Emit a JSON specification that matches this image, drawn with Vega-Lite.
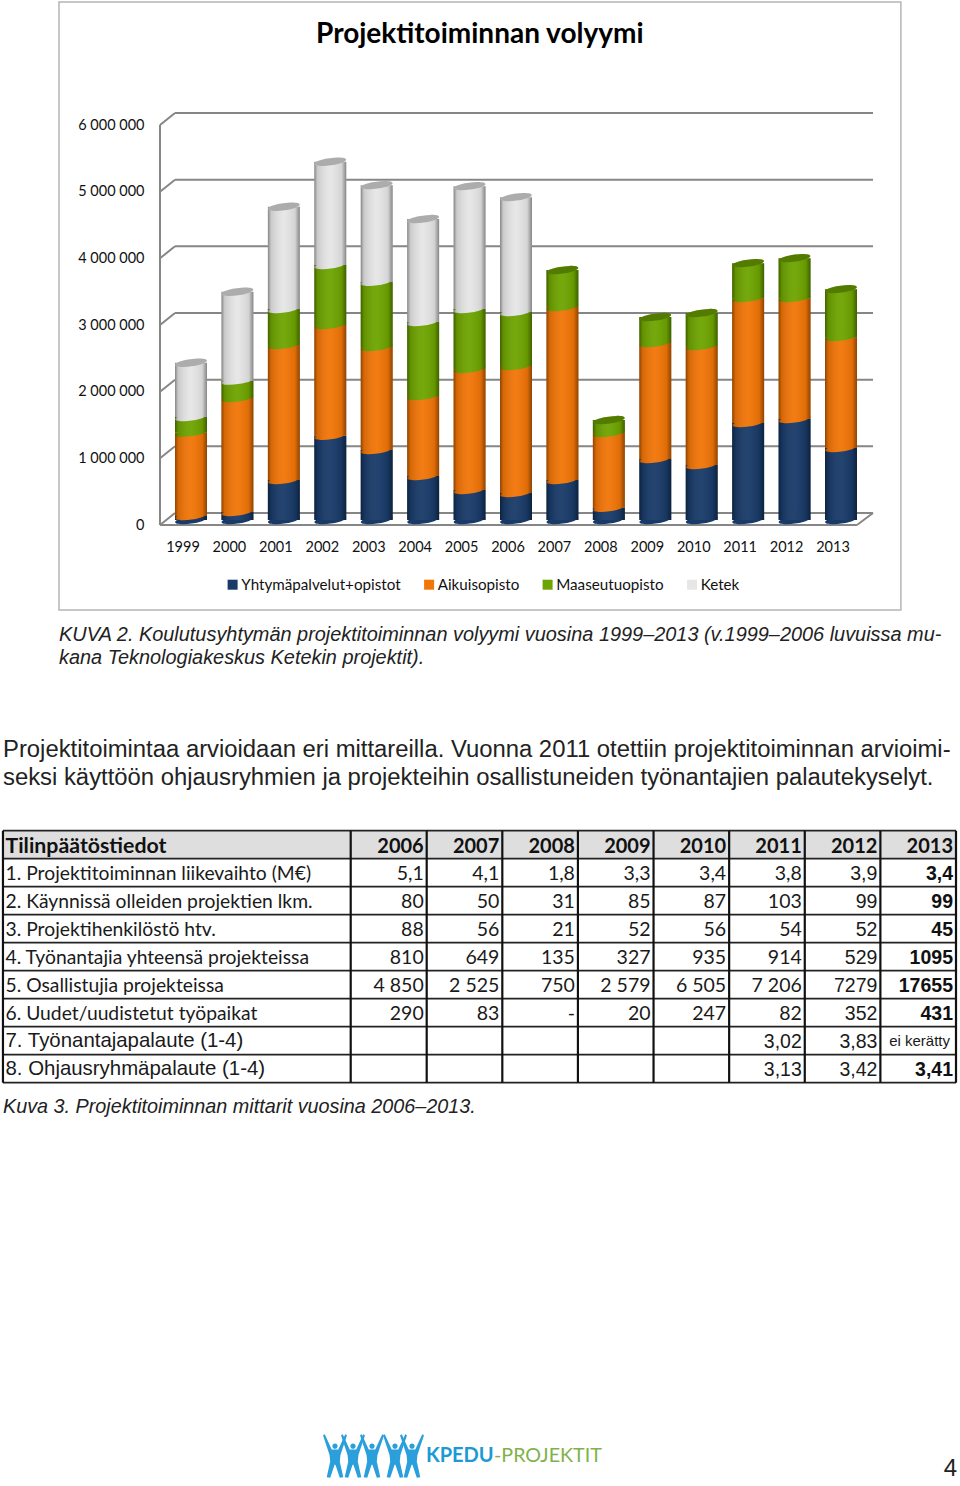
{"$schema":"https://vega.github.io/schema/vega-lite/v6.json","padding":0,"spacing":0,"background":"white","config":{"view":{"stroke":null},"axis":{"grid":false,"domain":false,"ticks":false,"title":null},"concat":{"spacing":0}},
"datasets":{"solut":[
{"rivi":0,"vuosi":2006,"teksti":"2006","tyyli":"otsikko"},{"rivi":0,"vuosi":2007,"teksti":"2007","tyyli":"otsikko"},{"rivi":0,"vuosi":2008,"teksti":"2008","tyyli":"otsikko"},{"rivi":0,"vuosi":2009,"teksti":"2009","tyyli":"otsikko"},{"rivi":0,"vuosi":2010,"teksti":"2010","tyyli":"otsikko"},{"rivi":0,"vuosi":2011,"teksti":"2011","tyyli":"otsikko"},{"rivi":0,"vuosi":2012,"teksti":"2012","tyyli":"otsikko"},{"rivi":0,"vuosi":2013,"teksti":"2013","tyyli":"otsikko"},
{"rivi":1,"vuosi":2006,"teksti":"5,1","tyyli":"runko"},{"rivi":1,"vuosi":2007,"teksti":"4,1","tyyli":"runko"},{"rivi":1,"vuosi":2008,"teksti":"1,8","tyyli":"runko"},{"rivi":1,"vuosi":2009,"teksti":"3,3","tyyli":"runko"},{"rivi":1,"vuosi":2010,"teksti":"3,4","tyyli":"runko"},{"rivi":1,"vuosi":2011,"teksti":"3,8","tyyli":"runko"},{"rivi":1,"vuosi":2012,"teksti":"3,9","tyyli":"arial"},{"rivi":1,"vuosi":2013,"teksti":"3,4","tyyli":"lihava"},
{"rivi":2,"vuosi":2006,"teksti":"80","tyyli":"runko"},{"rivi":2,"vuosi":2007,"teksti":"50","tyyli":"runko"},{"rivi":2,"vuosi":2008,"teksti":"31","tyyli":"runko"},{"rivi":2,"vuosi":2009,"teksti":"85","tyyli":"runko"},{"rivi":2,"vuosi":2010,"teksti":"87","tyyli":"runko"},{"rivi":2,"vuosi":2011,"teksti":"103","tyyli":"runko"},{"rivi":2,"vuosi":2012,"teksti":"99","tyyli":"arial"},{"rivi":2,"vuosi":2013,"teksti":"99","tyyli":"lihava"},
{"rivi":3,"vuosi":2006,"teksti":"88","tyyli":"runko"},{"rivi":3,"vuosi":2007,"teksti":"56","tyyli":"runko"},{"rivi":3,"vuosi":2008,"teksti":"21","tyyli":"runko"},{"rivi":3,"vuosi":2009,"teksti":"52","tyyli":"runko"},{"rivi":3,"vuosi":2010,"teksti":"56","tyyli":"runko"},{"rivi":3,"vuosi":2011,"teksti":"54","tyyli":"runko"},{"rivi":3,"vuosi":2012,"teksti":"52","tyyli":"arial"},{"rivi":3,"vuosi":2013,"teksti":"45","tyyli":"lihava"},
{"rivi":4,"vuosi":2006,"teksti":"810","tyyli":"runko"},{"rivi":4,"vuosi":2007,"teksti":"649","tyyli":"runko"},{"rivi":4,"vuosi":2008,"teksti":"135","tyyli":"runko"},{"rivi":4,"vuosi":2009,"teksti":"327","tyyli":"runko"},{"rivi":4,"vuosi":2010,"teksti":"935","tyyli":"runko"},{"rivi":4,"vuosi":2011,"teksti":"914","tyyli":"runko"},{"rivi":4,"vuosi":2012,"teksti":"529","tyyli":"arial"},{"rivi":4,"vuosi":2013,"teksti":"1095","tyyli":"lihava"},
{"rivi":5,"vuosi":2006,"teksti":"4 850","tyyli":"runko"},{"rivi":5,"vuosi":2007,"teksti":"2 525","tyyli":"runko"},{"rivi":5,"vuosi":2008,"teksti":"750","tyyli":"runko"},{"rivi":5,"vuosi":2009,"teksti":"2 579","tyyli":"runko"},{"rivi":5,"vuosi":2010,"teksti":"6 505","tyyli":"runko"},{"rivi":5,"vuosi":2011,"teksti":"7 206","tyyli":"runko"},{"rivi":5,"vuosi":2012,"teksti":"7279","tyyli":"arial"},{"rivi":5,"vuosi":2013,"teksti":"17655","tyyli":"lihava"},
{"rivi":6,"vuosi":2006,"teksti":"290","tyyli":"runko"},{"rivi":6,"vuosi":2007,"teksti":"83","tyyli":"runko"},{"rivi":6,"vuosi":2008,"teksti":"-","tyyli":"runko"},{"rivi":6,"vuosi":2009,"teksti":"20","tyyli":"runko"},{"rivi":6,"vuosi":2010,"teksti":"247","tyyli":"runko"},{"rivi":6,"vuosi":2011,"teksti":"82","tyyli":"runko"},{"rivi":6,"vuosi":2012,"teksti":"352","tyyli":"arial"},{"rivi":6,"vuosi":2013,"teksti":"431","tyyli":"lihava"},
{"rivi":7,"vuosi":2011,"teksti":"3,02","tyyli":"arial"},{"rivi":7,"vuosi":2012,"teksti":"3,83","tyyli":"arial"},{"rivi":7,"vuosi":2013,"teksti":"ei kerätty","tyyli":"pieni"},
{"rivi":8,"vuosi":2011,"teksti":"3,13","tyyli":"arial"},{"rivi":8,"vuosi":2012,"teksti":"3,42","tyyli":"arial"},{"rivi":8,"vuosi":2013,"teksti":"3,41","tyyli":"lihava"}
],"nimikkeet":[
{"rivi":0,"teksti":"Tilinpäätöstiedot","tyyli":"otsikko"},
{"rivi":1,"teksti":"1. Projektitoiminnan liikevaihto (M€)","tyyli":"runko"},
{"rivi":2,"teksti":"2. Käynnissä olleiden projektien lkm.","tyyli":"runko"},
{"rivi":3,"teksti":"3. Projektihenkilöstö htv.","tyyli":"runko"},
{"rivi":4,"teksti":"4. Työnantajia yhteensä projekteissa","tyyli":"runko"},
{"rivi":5,"teksti":"5. Osallistujia projekteissa","tyyli":"runko"},
{"rivi":6,"teksti":"6. Uudet/uudistetut työpaikat","tyyli":"runko"},
{"rivi":7,"teksti":"7. Työnantajapalaute (1-4)","tyyli":"arial"},
{"rivi":8,"teksti":"8. Ohjausryhmäpalaute (1-4)","tyyli":"arial"}
],"vaaka":[{"rivi":0},{"rivi":1},{"rivi":2},{"rivi":3},{"rivi":4},{"rivi":5},{"rivi":6},{"rivi":7},{"rivi":8},{"rivi":9}],
"pysty":[{"vuosi":2000.396},{"vuosi":2004.995},{"vuosi":2006},{"vuosi":2007},{"vuosi":2008},{"vuosi":2009},{"vuosi":2010},{"vuosi":2011},{"vuosi":2012},{"vuosi":2013}]},
"vconcat":[
{"width":960,"height":615,"layer":[
{"data":{"values":[{}]},"mark":{"type":"rect","fill":"white","stroke":"#b5b5b5","strokeWidth":1.5},"encoding":{"x":{"datum":1996.157,"type":"quantitative","scale":{"domain":[1999,2013],"range":[191,841],"nice":false,"zero":false,"padding":0},"axis":{"values":[1999,2000,2001,2002,2003,2004,2005,2006,2007,2008,2009,2010,2011,2012,2013],"format":"d","offset":-78,"orient":"bottom","labelFont":"Lato","labelFontSize":14.5,"labelColor":"#111","labelPadding":3,"title":null,"labelOverlap":false,"labelFlush":false,"labelOffset":-8.5,"zindex":1}},"x2":{"datum":2014.29},"y":{"datum":7845000,"type":"quantitative","scale":{"domain":[0,6000000],"range":[525,125],"nice":false,"zero":false},"axis":{"values":[0,1000000,2000000,3000000,4000000,5000000,6000000],"labelExpr":"replace(replace(format(datum.value,','),',',' '),',',' ')","offset":-149,"orient":"left","labelFont":"Lato","labelFontSize":14.5,"labelColor":"#111","labelPadding":5,"title":null,"zindex":1}},"y2":{"datum":-1275000}}},
{"data":{"values":[{"arvo":0},{"arvo":1000000},{"arvo":2000000},{"arvo":3000000},{"arvo":4000000},{"arvo":5000000},{"arvo":6000000}]},"layer":[
{"mark":{"type":"rule","color":"#868686","strokeWidth":2,"yOffset":-12},"encoding":{"x":{"datum":1998.655,"type":"quantitative"},"x2":{"datum":2013.689},"y":{"field":"arvo","type":"quantitative"}}},
{"mark":{"type":"rule","color":"#868686","strokeWidth":2,"y2Offset":-12},"encoding":{"x":{"datum":1998.332,"type":"quantitative"},"x2":{"datum":1998.655},"y":{"field":"arvo","type":"quantitative"},"y2":{"field":"arvo"}}}
]},
{"data":{"values":[{}]},"layer":[
{"mark":{"type":"rule","color":"#868686","strokeWidth":2},"encoding":{"x":{"datum":1998.332,"type":"quantitative"},"y":{"datum":0,"type":"quantitative"},"y2":{"datum":6000000}}},
{"mark":{"type":"rule","color":"#868686","strokeWidth":2},"encoding":{"x":{"datum":1998.332,"type":"quantitative"},"x2":{"datum":2013.344},"y":{"datum":0,"type":"quantitative"}}},
{"mark":{"type":"rule","color":"#868686","strokeWidth":2,"y2Offset":-12},"encoding":{"x":{"datum":2013.344,"type":"quantitative"},"x2":{"datum":2013.689},"y":{"datum":0,"type":"quantitative"},"y2":{"datum":0}}},
{"mark":{"type":"text","text":"Projektitoiminnan volyymi","font":"Lato","fontWeight":"bold","fontSize":28,"color":"#000","align":"center","baseline":"middle"},"encoding":{"x":{"datum":2005.22,"type":"quantitative"},"y":{"datum":7350000,"type":"quantitative"}}}
]},
{"data":{"values":[
{"vuosi":1999,"sarja":"Yhtymäpalvelut+opistot","jarj":1,"arvo":60000},{"vuosi":1999,"sarja":"Aikuisopisto","jarj":2,"arvo":1250000},{"vuosi":1999,"sarja":"Maaseutuopisto","jarj":3,"arvo":235000},{"vuosi":1999,"sarja":"Ketek","jarj":4,"arvo":814000},
{"vuosi":2000,"sarja":"Yhtymäpalvelut+opistot","jarj":1,"arvo":120000},{"vuosi":2000,"sarja":"Aikuisopisto","jarj":2,"arvo":1710000},{"vuosi":2000,"sarja":"Maaseutuopisto","jarj":3,"arvo":260000},{"vuosi":2000,"sarja":"Ketek","jarj":4,"arvo":1334000},
{"vuosi":2001,"sarja":"Yhtymäpalvelut+opistot","jarj":1,"arvo":600000},{"vuosi":2001,"sarja":"Aikuisopisto","jarj":2,"arvo":2024000},{"vuosi":2001,"sarja":"Maaseutuopisto","jarj":3,"arvo":540000},{"vuosi":2001,"sarja":"Ketek","jarj":4,"arvo":1534000},
{"vuosi":2002,"sarja":"Yhtymäpalvelut+opistot","jarj":1,"arvo":1264000},{"vuosi":2002,"sarja":"Aikuisopisto","jarj":2,"arvo":1660000},{"vuosi":2002,"sarja":"Maaseutuopisto","jarj":3,"arvo":900000},{"vuosi":2002,"sarja":"Ketek","jarj":4,"arvo":1549000},
{"vuosi":2003,"sarja":"Yhtymäpalvelut+opistot","jarj":1,"arvo":1050000},{"vuosi":2003,"sarja":"Aikuisopisto","jarj":2,"arvo":1544000},{"vuosi":2003,"sarja":"Maaseutuopisto","jarj":3,"arvo":979000},{"vuosi":2003,"sarja":"Ketek","jarj":4,"arvo":1450000},
{"vuosi":2004,"sarja":"Yhtymäpalvelut+opistot","jarj":1,"arvo":660000},{"vuosi":2004,"sarja":"Aikuisopisto","jarj":2,"arvo":1200000},{"vuosi":2004,"sarja":"Maaseutuopisto","jarj":3,"arvo":1110000},{"vuosi":2004,"sarja":"Ketek","jarj":4,"arvo":1544000},
{"vuosi":2005,"sarja":"Yhtymäpalvelut+opistot","jarj":1,"arvo":450000},{"vuosi":2005,"sarja":"Aikuisopisto","jarj":2,"arvo":1814000},{"vuosi":2005,"sarja":"Maaseutuopisto","jarj":3,"arvo":900000},{"vuosi":2005,"sarja":"Ketek","jarj":4,"arvo":1844000},
{"vuosi":2006,"sarja":"Yhtymäpalvelut+opistot","jarj":1,"arvo":405000},{"vuosi":2006,"sarja":"Aikuisopisto","jarj":2,"arvo":1904000},{"vuosi":2006,"sarja":"Maaseutuopisto","jarj":3,"arvo":810000},{"vuosi":2006,"sarja":"Ketek","jarj":4,"arvo":1724000},
{"vuosi":2007,"sarja":"Yhtymäpalvelut+opistot","jarj":1,"arvo":600000},{"vuosi":2007,"sarja":"Aikuisopisto","jarj":2,"arvo":2594000},{"vuosi":2007,"sarja":"Maaseutuopisto","jarj":3,"arvo":555000},
{"vuosi":2008,"sarja":"Yhtymäpalvelut+opistot","jarj":1,"arvo":184000},{"vuosi":2008,"sarja":"Aikuisopisto","jarj":2,"arvo":1120000},{"vuosi":2008,"sarja":"Maaseutuopisto","jarj":3,"arvo":195000},
{"vuosi":2009,"sarja":"Yhtymäpalvelut+opistot","jarj":1,"arvo":915000},{"vuosi":2009,"sarja":"Aikuisopisto","jarj":2,"arvo":1739000},{"vuosi":2009,"sarja":"Maaseutuopisto","jarj":3,"arvo":390000},
{"vuosi":2010,"sarja":"Yhtymäpalvelut+opistot","jarj":1,"arvo":825000},{"vuosi":2010,"sarja":"Aikuisopisto","jarj":2,"arvo":1784000},{"vuosi":2010,"sarja":"Maaseutuopisto","jarj":3,"arvo":495000},
{"vuosi":2011,"sarja":"Yhtymäpalvelut+opistot","jarj":1,"arvo":1454000},{"vuosi":2011,"sarja":"Aikuisopisto","jarj":2,"arvo":1874000},{"vuosi":2011,"sarja":"Maaseutuopisto","jarj":3,"arvo":525000},
{"vuosi":2012,"sarja":"Yhtymäpalvelut+opistot","jarj":1,"arvo":1514000},{"vuosi":2012,"sarja":"Aikuisopisto","jarj":2,"arvo":1814000},{"vuosi":2012,"sarja":"Maaseutuopisto","jarj":3,"arvo":600000},
{"vuosi":2013,"sarja":"Yhtymäpalvelut+opistot","jarj":1,"arvo":1079000},{"vuosi":2013,"sarja":"Aikuisopisto","jarj":2,"arvo":1664000},{"vuosi":2013,"sarja":"Maaseutuopisto","jarj":3,"arvo":720000}
]},
"transform":[{"stack":"arvo","groupby":["vuosi"],"sort":[{"field":"jarj","order":"ascending"}],"as":["y0","y1"]},{"joinaggregate":[{"op":"max","field":"y1","as":"ylin"}],"groupby":["vuosi"]}],
"layer":[
{"mark":{"type":"bar","width":32,"orient":"vertical","yOffset":-5,"y2Offset":-5},"encoding":{"x":{"field":"vuosi","type":"quantitative"},"y":{"field":"y0","type":"quantitative"},"y2":{"field":"y1"},"color":{"field":"sarja","type":"nominal","scale":{"domain":["Yhtymäpalvelut+opistot","Aikuisopisto","Maaseutuopisto","Ketek"],"range":["#183a68","#f27507","#6ea400","#e6e6e6"]},"legend":{"title":null,"orient":"none","legendX":225,"legendY":577,"direction":"horizontal","columns":4,"columnPadding":20.5,"symbolType":"square","symbolSize":100,"symbolStrokeWidth":0,"labelFont":"Lato","labelFontSize":15.2,"labelColor":"#111","labelOffset":1}}}},
{"mark":{"type":"point","filled":true,"opacity":1,"size":1024,"yOffset":-5,"shape":"M-.99,.14 A1,.22 -8 1 0 .99,-.14 A1,.22 -8 1 0 -.99,.14 Z"},"encoding":{"x":{"field":"vuosi","type":"quantitative"},"y":{"field":"y0","type":"quantitative"},"color":{"field":"sarja","type":"nominal","legend":null}}},
{"mark":{"type":"bar","width":32,"orient":"vertical","yOffset":-5,"y2Offset":-5,"color":{"gradient":"linear","x1":0,"x2":1,"y1":0,"y2":0,"stops":[{"offset":0,"color":"rgba(0,0,0,0.42)"},{"offset":0.1,"color":"rgba(0,0,0,0.12)"},{"offset":0.5,"color":"rgba(255,255,255,0.05)"},{"offset":0.85,"color":"rgba(0,0,0,0.08)"},{"offset":1,"color":"rgba(0,0,0,0.42)"}]}},"encoding":{"x":{"field":"vuosi","type":"quantitative"},"y":{"field":"y0","type":"quantitative"},"y2":{"field":"y1"}}},
{"transform":[{"filter":"datum.y1 === datum.ylin"}],"mark":{"type":"point","filled":true,"opacity":1,"size":1024,"yOffset":-5,"shape":"M-.99,.14 A1,.22 -8 1 0 .99,-.14 A1,.22 -8 1 0 -.99,.14 Z"},"encoding":{"x":{"field":"vuosi","type":"quantitative"},"y":{"field":"y1","type":"quantitative"},"color":{"field":"sarja","type":"nominal","legend":null}}},
{"transform":[{"filter":"datum.y1 === datum.ylin"}],"mark":{"type":"point","filled":true,"opacity":0.25,"color":"#000","size":1024,"yOffset":-5,"shape":"M-.99,.14 A1,.22 -8 1 0 .99,-.14 A1,.22 -8 1 0 -.99,.14 Z"},"encoding":{"x":{"field":"vuosi","type":"quantitative"},"y":{"field":"y1","type":"quantitative"}}}
]}
]},
{"width":960,"height":210,"resolve":{"scale":{"y":"independent"}},"layer":[
{"data":{"values":[{"rivi":1,"teksti":"KUVA 2. Koulutusyhtymän projektitoiminnan volyymi vuosina 1999–2013 (v.1999–2006 luvuissa mu-"},{"rivi":2,"teksti":"kana Teknologiakeskus Ketekin projektit)."}]},"mark":{"type":"text","font":"Liberation Sans","fontStyle":"italic","fontSize":19.9,"color":"#222","align":"left","baseline":"middle"},"encoding":{"x":{"datum":59,"type":"quantitative","scale":{"domain":[0,960],"range":[0,960],"nice":false},"axis":null},"y":{"field":"rivi","type":"quantitative","scale":{"domain":[1,2],"range":[20,43],"nice":false,"zero":false},"axis":null},"text":{"field":"teksti"}}},
{"data":{"values":[{"rivi":1,"teksti":"Projektitoimintaa arvioidaan eri mittareilla. Vuonna 2011 otettiin projektitoiminnan arvioimi-"},{"rivi":2,"teksti":"seksi käyttöön ohjausryhmien ja projekteihin osallistuneiden työnantajien palautekyselyt."}]},"mark":{"type":"text","font":"Liberation Sans","fontSize":23.85,"color":"#222","align":"left","baseline":"middle"},"encoding":{"x":{"datum":3,"type":"quantitative","axis":null},"y":{"field":"rivi","type":"quantitative","scale":{"domain":[1,2],"range":[135,163],"nice":false,"zero":false},"axis":null},"text":{"field":"teksti"}}}
]},
{"width":960,"height":270,
"layer":[
{"data":{"values":[{}]},"mark":{"type":"rect","fill":"#dedede"},"encoding":{"x":{"datum":2000.396,"type":"quantitative","scale":{"domain":[2006,2013],"range":[426.7,956],"nice":false,"zero":false},"axis":null},"x2":{"datum":2013},"y":{"datum":0,"type":"quantitative","scale":{"domain":[0,9],"range":[5.7,257.7],"nice":false,"zero":false},"axis":null},"y2":{"datum":1}}},
{"data":{"name":"vaaka"},"mark":{"type":"rule","color":"#222","strokeWidth":1.7},"encoding":{"x":{"datum":2000.396,"type":"quantitative"},"x2":{"datum":2013},"y":{"field":"rivi","type":"quantitative"}}},
{"data":{"name":"pysty"},"mark":{"type":"rule","color":"#111","strokeWidth":2.2},"encoding":{"x":{"field":"vuosi","type":"quantitative"},"y":{"datum":0,"type":"quantitative"},"y2":{"datum":9}}},
{"data":{"name":"nimikkeet"},"transform":[{"filter":"datum.tyyli === 'otsikko'"}],"mark":{"type":"text","font":"Lato","fontWeight":"bold","fontSize":21.3,"color":"#111","align":"left","baseline":"middle","yOffset":16},"encoding":{"x":{"datum":2000.43,"type":"quantitative"},"y":{"field":"rivi","type":"quantitative"},"text":{"field":"teksti"}}},
{"data":{"name":"nimikkeet"},"transform":[{"filter":"datum.tyyli === 'runko'"}],"mark":{"type":"text","font":"Lato","fontSize":19.3,"color":"#1a1a1a","align":"left","baseline":"middle","yOffset":15},"encoding":{"x":{"datum":2000.43,"type":"quantitative"},"y":{"field":"rivi","type":"quantitative"},"text":{"field":"teksti"}}},
{"data":{"name":"nimikkeet"},"transform":[{"filter":"datum.tyyli === 'arial'"}],"mark":{"type":"text","font":"Liberation Sans","fontSize":20.4,"color":"#1a1a1a","align":"left","baseline":"middle","yOffset":14.5},"encoding":{"x":{"datum":2000.43,"type":"quantitative"},"y":{"field":"rivi","type":"quantitative"},"text":{"field":"teksti"}}},
{"data":{"name":"solut"},"transform":[{"filter":"datum.tyyli === 'otsikko'"}],"mark":{"type":"text","font":"Lato","fontWeight":"bold","fontSize":20,"color":"#111","align":"right","baseline":"middle","yOffset":16,"dx":-3},"encoding":{"x":{"field":"vuosi","type":"quantitative"},"y":{"field":"rivi","type":"quantitative"},"text":{"field":"teksti"}}},
{"data":{"name":"solut"},"transform":[{"filter":"datum.tyyli === 'runko'"}],"mark":{"type":"text","font":"Lato","fontSize":19.5,"color":"#1a1a1a","align":"right","baseline":"middle","yOffset":15,"dx":-3},"encoding":{"x":{"field":"vuosi","type":"quantitative"},"y":{"field":"rivi","type":"quantitative"},"text":{"field":"teksti"}}},
{"data":{"name":"solut"},"transform":[{"filter":"datum.tyyli === 'arial'"}],"mark":{"type":"text","font":"Liberation Sans","fontSize":19.5,"color":"#1a1a1a","align":"right","baseline":"middle","yOffset":15,"dx":-3},"encoding":{"x":{"field":"vuosi","type":"quantitative"},"y":{"field":"rivi","type":"quantitative"},"text":{"field":"teksti"}}},
{"data":{"name":"solut"},"transform":[{"filter":"datum.tyyli === 'lihava'"}],"mark":{"type":"text","font":"Liberation Sans","fontWeight":"bold","fontSize":19.5,"color":"#111","align":"right","baseline":"middle","yOffset":15,"dx":-3},"encoding":{"x":{"field":"vuosi","type":"quantitative"},"y":{"field":"rivi","type":"quantitative"},"text":{"field":"teksti"}}},
{"data":{"name":"solut"},"transform":[{"filter":"datum.tyyli === 'pieni'"}],"mark":{"type":"text","font":"Liberation Sans","fontSize":15,"color":"#1a1a1a","align":"right","baseline":"middle","yOffset":14.5,"dx":-6},"encoding":{"x":{"field":"vuosi","type":"quantitative"},"y":{"field":"rivi","type":"quantitative"},"text":{"field":"teksti"}}}
]},
{"width":960,"height":391,"layer":[
{"data":{"values":[{"teksti":"Kuva 3. Projektitoiminnan mittarit vuosina 2006–2013."}]},"mark":{"type":"text","font":"Liberation Sans","fontStyle":"italic","fontSize":19.8,"color":"#222","align":"left","baseline":"middle"},"encoding":{"x":{"datum":3,"type":"quantitative","scale":{"domain":[0,960],"range":[0,960],"nice":false,"zero":false},"axis":null},"y":{"datum":12,"type":"quantitative","scale":{"domain":[0,391],"range":[0,391],"nice":false,"zero":false},"axis":null},"text":{"field":"teksti"}}},
{"data":{"values":[{"hahmo":335},{"hahmo":353},{"hahmo":372},{"hahmo":395},{"hahmo":412}]},"mark":{"type":"point","filled":true,"opacity":1,"color":"#2a9fdc","size":1900,"shape":"M-.12,-.45a.12,.12 0 1 0 .24,0a.12,.12 0 1 0 -.24,0Z M-.55,-.95 L-.47,-1 L-.15,-.3 L.15,-.3 L.47,-1 L.55,-.95 L.25,-.05 L.22,.25 L.38,.98 L.22,1 L.02,.4 L-.02,.4 L-.22,1 L-.38,.98 L-.22,.25 L-.25,-.05 Z"},"encoding":{"x":{"field":"hahmo","type":"quantitative"},"y":{"datum":361,"type":"quantitative"}}},
{"data":{"values":[{"teksti":"KPEDU"}]},"mark":{"type":"text","font":"Lato","fontWeight":"bold","fontSize":20,"color":"#1b9ad6","align":"left","baseline":"middle"},"encoding":{"x":{"datum":426,"type":"quantitative"},"y":{"datum":361,"type":"quantitative"},"text":{"field":"teksti"}}},
{"data":{"values":[{"teksti":"-PROJEKTIT"}]},"mark":{"type":"text","font":"Lato","fontSize":19.7,"color":"#7fb24a","align":"left","baseline":"middle"},"encoding":{"x":{"datum":494,"type":"quantitative"},"y":{"datum":361,"type":"quantitative"},"text":{"field":"teksti"}}},
{"data":{"values":[{"teksti":"4"}]},"mark":{"type":"text","font":"Liberation Sans","fontSize":24,"color":"#222","align":"right","baseline":"middle"},"encoding":{"x":{"datum":957,"type":"quantitative"},"y":{"datum":374,"type":"quantitative"},"text":{"field":"teksti"}}}
]}
]}
